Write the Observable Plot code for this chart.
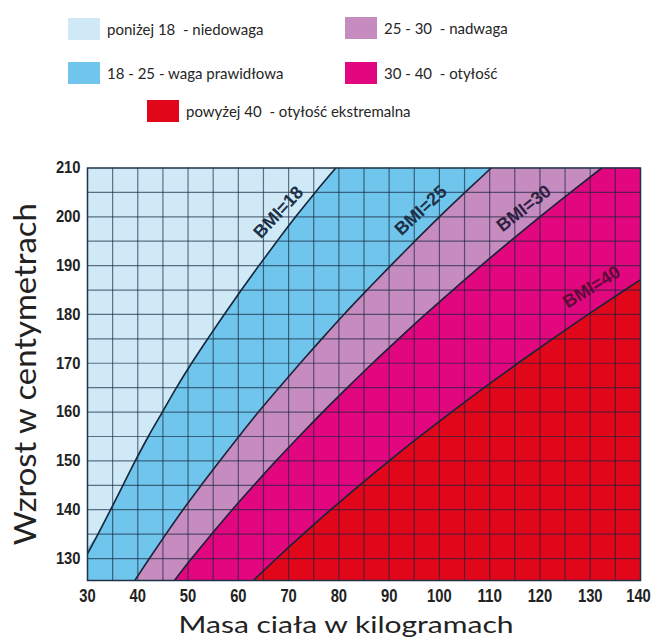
<!DOCTYPE html>
<html><head><meta charset="utf-8">
<script src="https://cdn.jsdelivr.net/npm/d3@7"></script>
<script src="https://cdn.jsdelivr.net/npm/@observablehq/plot@0.6"></script>
<style>
body{margin:0;background:#fff;}
#legend{position:relative;width:653px;height:150px;font-family:Lato,"Open Sans",sans-serif;font-size:15px;color:#262626;}
.sw{position:absolute;width:32px;height:22px;}
.lt{position:absolute;line-height:22px;white-space:pre;}
#chart svg{display:block;}
</style></head><body>
<div id="legend"></div>
<div id="chart"></div>
<script>
// ---- data ----
const categories = ["poniżej 18  - niedowaga", "18 - 25 - waga prawidłowa", "25 - 30  - nadwaga", "30 - 40  - otyłość", "powyżej 40  - otyłość ekstremalna"];
const massTicks = [30, 40, 50, 60, 70, 80, 90, 100, 110, 120, 130, 140];
const heightTicks = [130, 140, 150, 160, 170, 180, 190, 200, 210];
const massGrid = [35, 40, 45, 50, 55, 60, 65, 70, 75, 80, 85, 90, 95, 100, 105, 110, 115, 120, 125, 130, 135];
const heightGrid = [130, 135, 140, 145, 150, 155, 160, 165, 170, 175, 180, 185, 190, 195, 200, 205];

// BMI boundary curves (height cm -> mass kg)
const bmi18Height = [131, 135, 140, 145, 150, 155, 160, 165, 170, 175, 180, 185, 190, 195, 200, 205, 210];
const bmi18Mass   = [30, 32.1, 34.6, 37.05, 39.5, 42.1, 44.9, 47.7, 50.7, 53.9, 57.2, 60.6, 64.1, 67.7, 71.4, 75.3, 79.4];
const bmi25Height = [125.5, 130, 135, 140, 145, 150, 155, 160, 165, 170, 175, 180, 185, 190, 195, 200, 205, 210];
const bmi25Mass   = [39.4, 42.3, 45.6, 49.0, 52.6, 56.3, 60.1, 64.0, 68.1, 72.3, 76.6, 81.0, 85.6, 90.3, 95.1, 100.0, 105.1, 110.3];
const bmi30Height = [125.5, 130, 135, 140, 145, 150, 155, 160, 165, 170, 175, 180, 185, 190, 195, 200, 205, 210];
const bmi30Mass   = [47.3, 50.7, 54.7, 58.8, 63.1, 67.5, 72.1, 76.8, 81.7, 86.7, 91.9, 97.2, 102.7, 108.3, 114.1, 120.0, 126.1, 132.3];
const bmi40Height = [125.5, 130, 135, 140, 145, 150, 155, 160, 165, 170, 175, 180, 185, 187.1];
const bmi40Mass   = [63.0, 67.6, 72.9, 78.4, 84.1, 90.0, 96.1, 102.4, 108.9, 115.6, 122.5, 129.6, 136.9, 140];

const curveNames = ["BMI=18", "BMI=25", "BMI=30", "BMI=40"];
const labelMass = [68.0, 96.3, 116.8, 130.3];
const labelHeight = [200.9, 201.3, 201.7, 185.6];
const labelAngle = [-47, -43, -38, -32];

const xTitle = "Masa ciała w kilogramach";
const yTitle = "Wzrost w centymetrach";

// ---- styles ----
const colors = ["#d0e9f7", "#70c5ec", "#c68bbf", "#e2067f", "#e2061b"];
const labelColors = ["#1d3046", "#1d3046", "#2e2140", "#5a0c36"];
const lineColor = "#17263a";
const tickFont = "'Liberation Sans',Arial,sans-serif";
const titleFont = "Lato,'Open Sans',sans-serif";

// ---- legend ----
const legendPos = [[68, 18], [68, 62], [345, 17], [345, 62], [147, 100]];
const legend = document.getElementById("legend");
categories.forEach((c, i) => {
  const s = document.createElement("div");
  s.className = "sw";
  s.style.left = legendPos[i][0] + "px"; s.style.top = legendPos[i][1] + "px";
  s.style.background = colors[i];
  legend.appendChild(s);
  const t = document.createElement("div");
  t.className = "lt";
  t.style.left = (legendPos[i][0] + 39) + "px"; t.style.top = legendPos[i][1] + "px";
  t.textContent = c;
  legend.appendChild(t);
});

// ---- tables ----
const toRows = (hs, ms) => hs.map((h, i) => ({h, kg: ms[i]}));
const c18 = toRows(bmi18Height, bmi18Mass);
const c25 = toRows(bmi25Height, bmi25Mass);
const c30 = toRows(bmi30Height, bmi30Mass);
const c40 = toRows(bmi40Height, bmi40Mass);
const a18 = [{h: heightTicks[0] - 4.5, kg: massTicks[0]}, ...c18];
const labels = curveNames.map((n, i) => ({n, kg: labelMass[i], h: labelHeight[i], a: labelAngle[i], i}));

const right = () => massTicks[massTicks.length - 1];
const areaOpts = (fill) => ({y: "h", x1: "kg", x2: right, fill, curve: "monotone-y", clip: true});
const lineOpts = {x: "kg", y: "h", stroke: lineColor, strokeWidth: 1.6, curve: "monotone-y", clip: true};
const gridOpts = {stroke: "#14243a", strokeOpacity: 0.62, strokeWidth: 1.2};

const chart = Plot.plot({
  width: 653, height: 490,
  marginTop: 17.5, marginBottom: 60, marginLeft: 87, marginRight: 13,
  x: {domain: [30, 140]},
  y: {domain: [125.5, 210]},
  marks: [
    Plot.frame({fill: colors[0]}),
    Plot.areaX(a18, areaOpts(colors[1])),
    Plot.areaX(c25, areaOpts(colors[2])),
    Plot.areaX(c30, areaOpts(colors[3])),
    Plot.areaX(c40, areaOpts(colors[4])),
    Plot.ruleX(massGrid, gridOpts),
    Plot.ruleY(heightGrid, gridOpts),
    Plot.line(c18, lineOpts),
    Plot.line(c25, lineOpts),
    Plot.line(c30, lineOpts),
    Plot.line(c40, lineOpts),
    Plot.frame({stroke: "#1d3347", strokeWidth: 1.5}),
    Plot.text(labels, {x: "kg", y: "h", text: "n", rotate: "a", fill: d => labelColors[d.i],
      fontSize: 18, fontWeight: "bold", fontFamily: "'Liberation Sans',Arial,sans-serif"}),
    Plot.axisX(massTicks, {tickSize: 0, tickPadding: 9, fontSize: 17.5, fontWeight: "bold", fontFamily: tickFont, fill: "#222", label: null}),
    Plot.axisY(heightTicks, {tickSize: 0, tickPadding: 7, fontSize: 16.5, fontWeight: "bold", fontFamily: tickFont, fill: "#222", label: null}),
    Plot.text([xTitle], {text: d => d, frameAnchor: "bottom", textAnchor: "middle", lineAnchor: "middle", dy: 45, dx: -18, fontSize: 24, fill: "#222", fontFamily: titleFont}),
    Plot.text([yTitle], {text: d => d, frameAnchor: "left", textAnchor: "middle", lineAnchor: "middle", dx: -61, rotate: -90, fontSize: 30, fill: "#222", fontFamily: titleFont})
  ]
});
// narrow the tick digits and stretch the axis titles to the extents seen in the reference
chart.querySelectorAll("text").forEach(t => {
  const s = t.textContent;
  if (s === xTitle) { t.setAttribute("textLength", 335); t.setAttribute("lengthAdjust", "spacingAndGlyphs"); }
  else if (s === yTitle) { t.setAttribute("textLength", 342); t.setAttribute("lengthAdjust", "spacingAndGlyphs"); }
  else if (/^\d+$/.test(s)) {
    t.setAttribute("textLength", 8.2 * s.length); t.setAttribute("lengthAdjust", "spacingAndGlyphs");
    if (s === String(massTicks[massTicks.length - 1]) && t.closest('[aria-label="x-axis tick label"]')) t.setAttribute("dx", -2);
  }
});
document.getElementById("chart").appendChild(chart);
</script>
</body></html>
